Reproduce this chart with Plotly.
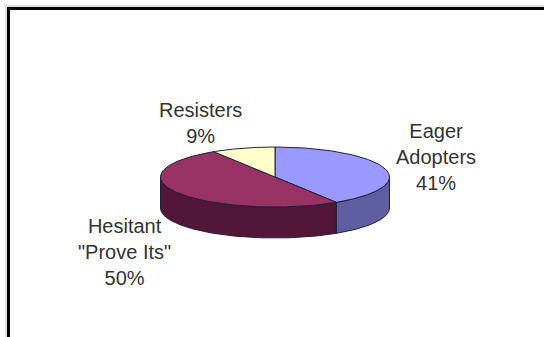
import numpy as np
import plotly.graph_objects as go

# ---- data ----
categories = ["Eager<br>Adopters", "Hesitant<br>\"Prove Its\"", "Resisters"]
values = [41, 50, 9]
top_colors = ["#9999FF", "#993366", "#FFFFCC"]
side_colors = ["#5E5EA0", "#521638", "#A0A080"]
label_xy = [(436, 157), (124, 252), (200, 123)]

# ---- geometry (pixel space) ----
W, H = 544, 337
CX, CY, RX, RY, DEPTH = 275, 177, 114.5, 30, 31
EDGE = "#20203A"


def ell(t, dy=0.0):
    return CX + RX * np.sin(t), CY - RY * np.cos(t) + dy


fracs = np.array(values, dtype=float) / sum(values)
bounds = np.concatenate([[0], np.cumsum(fracs)]) * 2 * np.pi

fig = go.Figure()

# side walls (front half only)
for i in range(len(values)):
    a, b = bounds[i], bounds[i + 1]
    lo, hi = max(a, np.pi / 2), min(b, 3 * np.pi / 2)
    if lo >= hi:
        continue
    t = np.linspace(lo, hi, 120)
    xt, yt = ell(t)
    xb, yb = ell(t[::-1], DEPTH)
    xs = np.concatenate([xt, xb, xt[:1]])
    ys = np.concatenate([yt, yb, yt[:1]])
    fig.add_trace(go.Scatter(x=xs, y=ys, mode="lines", fill="toself",
                             fillcolor=side_colors[i],
                             line=dict(color=EDGE, width=1),
                             hoverinfo="skip", showlegend=False))

# top faces
for i in range(len(values)):
    a, b = bounds[i], bounds[i + 1]
    t = np.linspace(a, b, 160)
    xt, yt = ell(t)
    xs = np.concatenate([[CX], xt, [CX]])
    ys = np.concatenate([[CY], yt, [CY]])
    fig.add_trace(go.Scatter(x=xs, y=ys, mode="lines", fill="toself",
                             fillcolor=top_colors[i],
                             line=dict(color=EDGE, width=1),
                             hoverinfo="skip", showlegend=False))

for i, (lab, v) in enumerate(zip(categories, values)):
    x, y = label_xy[i]
    fig.add_annotation(x=x, y=y, xref="x", yref="y", text=f"{lab}<br>{v}%",
                       showarrow=False, xanchor="center", yanchor="middle",
                       font=dict(family="Liberation Sans, Arial", size=20, color="#333333"))

# frame
fig.add_shape(type="line", x0=6, x1=W, y0=6, y1=6, xref="x", yref="y",
              line=dict(color="#BBBBBB", width=1))
fig.add_shape(type="line", x0=6, x1=6, y0=6, y1=H, xref="x", yref="y",
              line=dict(color="#BBBBBB", width=1))
fig.add_shape(type="rect", x0=7, x1=W + 5, y0=7, y1=10, xref="x", yref="y",
              line=dict(width=0), fillcolor="black")
fig.add_shape(type="rect", x0=7, x1=10, y0=7, y1=H + 5, xref="x", yref="y",
              line=dict(width=0), fillcolor="black")

fig.update_layout(
    width=W, height=H, autosize=False,
    margin=dict(l=0, r=0, t=0, b=0),
    paper_bgcolor="white", plot_bgcolor="white",
    xaxis=dict(range=[0, W], visible=False, fixedrange=True),
    yaxis=dict(range=[H, 0], visible=False, fixedrange=True),
)

fig.write_html("out.html", config={"displayModeBar": False},
               post_script="document.body.style.margin='0';document.body.style.padding='0';")
